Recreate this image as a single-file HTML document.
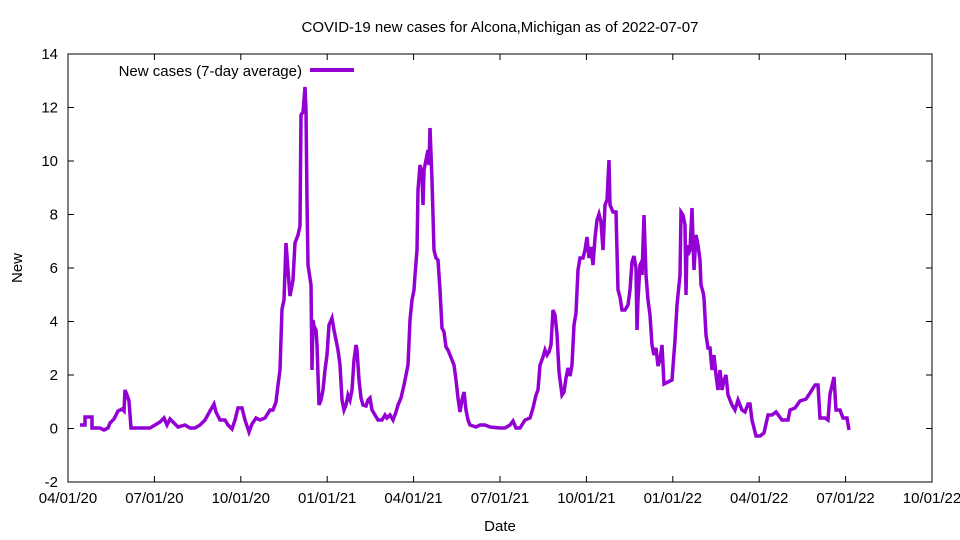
<!DOCTYPE html>
<html><head><meta charset="utf-8"><style>
body{margin:0;background:#fff}
svg{display:block;font-family:"Liberation Sans",sans-serif;font-size:15px}
</style></head><body>
<svg width="960" height="540" viewBox="0 0 960 540">
<rect x="68" y="54" width="864" height="428" fill="none" stroke="#000" stroke-width="1"/>
<g stroke="#000" stroke-width="1">
<line x1="68" y1="54" x2="74" y2="54"/><line x1="932" y1="54" x2="926" y2="54"/>
<line x1="68" y1="107.5" x2="74" y2="107.5"/><line x1="932" y1="107.5" x2="926" y2="107.5"/>
<line x1="68" y1="161" x2="74" y2="161"/><line x1="932" y1="161" x2="926" y2="161"/>
<line x1="68" y1="214.5" x2="74" y2="214.5"/><line x1="932" y1="214.5" x2="926" y2="214.5"/>
<line x1="68" y1="268" x2="74" y2="268"/><line x1="932" y1="268" x2="926" y2="268"/>
<line x1="68" y1="321.5" x2="74" y2="321.5"/><line x1="932" y1="321.5" x2="926" y2="321.5"/>
<line x1="68" y1="375" x2="74" y2="375"/><line x1="932" y1="375" x2="926" y2="375"/>
<line x1="68" y1="428.5" x2="74" y2="428.5"/><line x1="932" y1="428.5" x2="926" y2="428.5"/>
<line x1="154.4" y1="482" x2="154.4" y2="476"/><line x1="154.4" y1="54" x2="154.4" y2="60"/>
<line x1="240.8" y1="482" x2="240.8" y2="476"/><line x1="240.8" y1="54" x2="240.8" y2="60"/>
<line x1="327.2" y1="482" x2="327.2" y2="476"/><line x1="327.2" y1="54" x2="327.2" y2="60"/>
<line x1="413.6" y1="482" x2="413.6" y2="476"/><line x1="413.6" y1="54" x2="413.6" y2="60"/>
<line x1="500" y1="482" x2="500" y2="476"/><line x1="500" y1="54" x2="500" y2="60"/>
<line x1="586.4" y1="482" x2="586.4" y2="476"/><line x1="586.4" y1="54" x2="586.4" y2="60"/>
<line x1="672.8" y1="482" x2="672.8" y2="476"/><line x1="672.8" y1="54" x2="672.8" y2="60"/>
<line x1="759.2" y1="482" x2="759.2" y2="476"/><line x1="759.2" y1="54" x2="759.2" y2="60"/>
<line x1="845.6" y1="482" x2="845.6" y2="476"/><line x1="845.6" y1="54" x2="845.6" y2="60"/>
</g>
<g text-anchor="end">
<text x="58" y="59">14</text><text x="58" y="112.5">12</text><text x="58" y="166">10</text>
<text x="58" y="219.5">8</text><text x="58" y="273">6</text><text x="58" y="326.5">4</text>
<text x="58" y="380">2</text><text x="58" y="433.5">0</text><text x="58" y="487">-2</text>
</g>
<g text-anchor="middle">
<text x="68" y="503">04/01/20</text><text x="154.4" y="503">07/01/20</text><text x="240.8" y="503">10/01/20</text>
<text x="327.2" y="503">01/01/21</text><text x="413.6" y="503">04/01/21</text><text x="500" y="503">07/01/21</text>
<text x="586.4" y="503">10/01/21</text><text x="672.8" y="503">01/01/22</text><text x="759.2" y="503">04/01/22</text>
<text x="845.6" y="503">07/01/22</text><text x="932" y="503">10/01/22</text>
<text x="500" y="531">Date</text>
<text x="500" y="32">COVID-19 new cases for Alcona,Michigan as of 2022-07-07</text>
</g>
<text x="22" y="268" text-anchor="middle" transform="rotate(-90 22 268)">New</text>
<text x="302" y="76" text-anchor="end">New cases (7-day average)</text>
<line x1="310" y1="70" x2="354" y2="70" stroke="#9400d3" stroke-width="4"/>
<polyline fill="none" stroke="#9400d3" stroke-width="3.5" stroke-linejoin="miter" points="
80,425 85,425 85,417 92,417 92,428 100,428 104,430 108,428 110,423 114,419 118,411 122,409 124,411 125,390 127,395 129,401 131,428 150,428 155,425 160,422 164,418 167,425 170,419 174,423 178,427 185,425 190,428 195,428 200,425 205,420 210,411 214,404 216,412 220,420 225,420 228,425 232,429 235,420 238,408 242,408 245,420 249,432 252,424 256,418 260,420 265,418 270,410 273,410 276,402 278,385 280,370 282,309 284,300 286,243 288,270 290,296 293,280 295,243 298,235 300,226 301,115 303,112 304,100 305,87 306,110 307,200 308,265 311,285 312,370 313,320 314,326 316,330 317,345 319,405 321,400 323,390 325,370 327,355 329,325 332,318 334,330 336,340 338,350 340,365 342,400 344,410 346,405 348,395 350,400 352,390 354,360 356,345 357,350 359,380 361,398 363,405 366,406 368,400 370,398 372,410 375,415 378,420 382,420 385,415 387,418 390,415 393,420 396,412 398,405 401,398 404,385 407,370 408,365 410,320 412,300 414,290 415,275 417,250 418,190 420,165 422,175 423,205 424,170 426,160 428,150 429,165 430,128 432,180 433,215 434,250 436,258 438,260 440,290 442,328 444,332 446,347 448,350 450,355 452,360 454,365 456,380 458,398 460,412 462,400 464,392 466,410 468,420 470,425 473,426 476,427 480,425 485,425 490,427 500,428 505,428 510,425 513,421 516,428 520,428 525,420 530,418 533,408 536,395 538,390 540,365 543,357 545,350 547,355 549,352 551,345 553,310 555,315 557,334 559,372 562,395 564,392 566,378 568,368 570,376 572,365 574,325 576,313 578,270 580,258 583,258 585,250 587,237 589,258 591,247 593,265 595,238 597,220 599,214 601,222 603,250 605,205 607,200 609,160 610,205 613,212 616,212 618,290 620,297 622,310 625,310 628,305 630,290 632,262 634,256 636,268 637,330 638,300 640,265 641,263 642,275 644,215 646,275 648,300 650,315 652,345 654,355 656,348 658,366 660,360 662,345 664,384 668,382 672,380 675,340 677,305 680,275 681,212 683,215 685,225 686,295 687,245 688,255 690,250 692,208 694,270 696,235 698,245 700,260 701,285 703,292 704,298 706,335 708,348 710,348 712,370 714,355 716,375 718,390 720,370 722,390 724,380 726,375 728,395 730,400 732,405 735,410 738,400 742,410 745,412 748,404 750,404 752,420 756,436 760,436 764,433 768,415 772,415 776,412 782,420 788,420 790,410 795,408 800,401 806,399 810,393 815,385 818,385 820,418 825,418 828,420 830,394 834,377 836,410 840,410 843,418 847,418 849,430"/>
</svg>
</body></html>
